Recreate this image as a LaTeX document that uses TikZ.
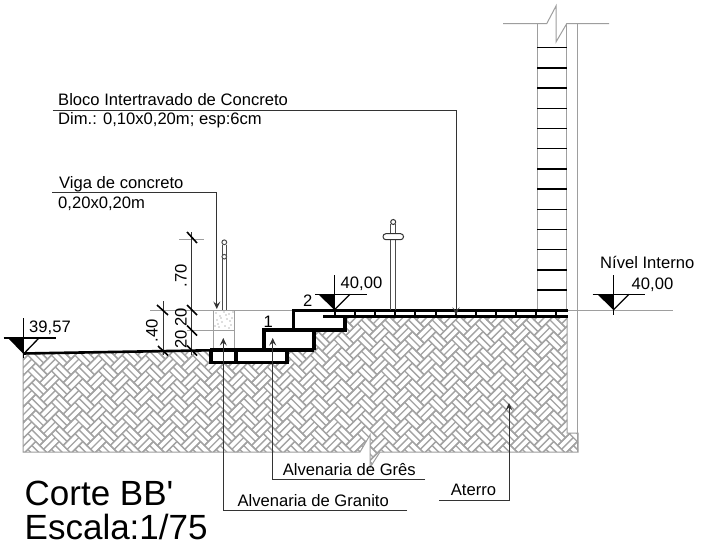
\documentclass[tikz,border=0pt]{standalone}
\usepackage{fontspec}
\setmainfont{Liberation Sans}
\newfontfamily\plainsans{Liberation Sans}
\usetikzlibrary{arrows.meta}
\definecolor{lg}{gray}{0.62}
\definecolor{hg}{gray}{0.64}
\tikzset{
  lbl/.style={inner sep=0pt,anchor=base west,font=\fontsize{16.6}{16.6}\selectfont,text=black},
  vlbl/.style={inner sep=0pt,anchor=base,rotate=90,font=\fontsize{16.6}{16.6}\selectfont,text=black},
  big/.style={inner sep=0pt,anchor=base west,font=\plainsans\fontsize{35}{35}\selectfont,text=black},
  grayline/.style={draw=lg,line width=1pt},
  leader/.style={draw=black!80,line width=1pt},
  arrowed/.style={leader,-{Stealth[length=7.5pt,width=7pt,inset=3pt]}},
  heavy/.style={draw=black,line width=3.2pt},
  wall/.style={draw=black,line width=1.5pt},
  dimline/.style={draw=black!80,line width=0.8pt},
  slash/.style={draw=black,line width=1.6pt},
  hatchline/.style={draw=hg,line width=1.35pt},
}
\begin{document}
\begin{tikzpicture}[x=1pt,y=-1pt]
\useasboundingbox (0,0) rectangle (719,548);
\fill[white] (0,0) rectangle (719,548);

% ---- fill (hatched ground) ----
\begin{scope}
\clip (23,353) -- (210,350) -- (210,362) -- (287,362) -- (287,350) -- (314,350) -- (314,330) -- (345,330) -- (345,316) -- (567,316) -- (567,433) -- (578,433) -- (578,452) -- (380,452) -- (370,467.5) -- (370,435) -- (360,452) -- (23,452) -- cycle;
\begin{scope}[x=5.55pt,y=5.55pt,rotate=45,shift={(0.3,0.2)}]
\foreach \p in {-54,...,0}{
  \foreach \q in {-5,...,33}{
    \edef\xa{\the\numexpr2*\p+3*\q\relax}
    \edef\ya{\the\numexpr2*\p-3*\q\relax}
    \ifnum\xa>-66 \ifnum\xa<42 \ifnum\ya>-150 \ifnum\ya<-38
    \edef\xb{\the\numexpr\xa+3\relax}
    \edef\xc{\the\numexpr\xa+4\relax}
    \edef\xd{\the\numexpr\xa+5\relax}
    \edef\yb{\the\numexpr\ya+1\relax}
    \edef\yc{\the\numexpr\ya+2\relax}
    \edef\yd{\the\numexpr\ya-1\relax}
    \draw[hatchline] (\xa,\ya) rectangle (\xb,\yc) (\xa,\yb) -- (\xb,\yb)
       (\xb,\yd) rectangle (\xd,\yc) (\xc,\yd) -- (\xc,\yc);
    \fi\fi\fi\fi
  }
}
\end{scope}
\end{scope}
\draw[draw=lg,line width=1pt] (23,353) -- (23,452) -- (360,452) -- (370,435) -- (370,467.5) -- (380,452) -- (578,452) -- (578,433) -- (567,433) -- (567,316);

% ---- wall ----
\coordinate (wl) at (537,23.7);
\coordinate (wr) at (566.7,23.7);
\coordinate (wo) at (577.5,23.7);
\draw[grayline] (503,23.7) -- (546.7,23.7) -- (556,6) -- (556,42) -- (566.7,23.7) -- (609,23.7);
\draw[grayline] (wl) -- (537,310);
\draw[grayline] (wr) -- (566.7,310);
\draw[grayline] (wo) -- (577.5,452);
\foreach \k in {0,...,12}{
  \draw[wall] (537,47.7+20.2*\k) -- (566.7,47.7+20.2*\k);
}

% ---- level lines ----
\draw[grayline] (566.7,310) -- (673,310);
\draw[grayline] (187,310) -- (293,310);
\draw[grayline] (187,330.5) -- (214,330.5);
\draw[grayline] (150,310) -- (214,310);
\draw[grayline] (179,239.3) -- (204,239.3);

% ---- beam ----
\draw[grayline,fill=white] (213.5,310) rectangle (234,350);
\draw[grayline] (213.5,330.5) -- (234,330.5);
\foreach \p/\q in {216/313,220/316,224/312,229/314,232/318,217/320,222/322,227/319,231/325,215/326,219/327,225/326,229/328,221/318,226/315,218/324,230/321,233/312}{
  \fill[black!55] (\p,\q) circle (0.55);
}

% ---- steps ----
\draw[heavy,line join=miter] (264,350) -- (264,330) -- (345,330) -- (345,316);
\draw[heavy,line join=miter] (293.5,330) -- (293.5,310.3) -- (323,310.3);
\draw[heavy] (314,330) -- (314,350);
\draw[heavy,line join=miter] (210,350) -- (314,350);
\draw[heavy,line join=miter] (211,350) -- (211,362.5) -- (287,362.5) -- (287,350);
\draw[heavy] (236,350) -- (236,362.5);
\draw[line width=2.6pt,black] (23,353.5) -- (210,350.3);

% ---- floor ----
\draw[draw=black,line width=2.4pt] (323,310.5) -- (568,310.5);
\draw[draw=black,line width=3pt] (323,316) -- (568,316);
\foreach \k in {0,...,11}{
  \draw[draw=black,line width=2pt] (335+20.1*\k,310) -- (335+20.1*\k,316);
}

% ---- railings ----
\draw[draw=black!70,line width=1pt] (222,244.5) -- (222,310) (226.7,244.5) -- (226.7,310);
\draw[draw=black!70,line width=1pt,fill=white] (224.3,242.3) circle (2.4);
\draw[draw=black!70,line width=1pt,fill=white] (224.3,256.7) circle (2.3);
\draw[draw=black!70,line width=1pt] (390.7,224) -- (390.7,310) (395.7,224) -- (395.7,310);
\draw[draw=black!80,line width=1pt,fill=white] (393.2,222) circle (2.5);
\draw[draw=black!80,line width=1pt,fill=white,rounded corners=2.9pt] (383,233.7) rectangle (403.5,239.7);

% ---- dimension lines ----
\draw[dimline] (191.5,232) -- (191.5,355);
\draw[dimline] (163.5,301) -- (163.5,355);
\draw[slash] (187,232) -- (197,243);
\draw[slash] (187,305) -- (197,315);
\draw[slash] (187,325.5) -- (197,335.5);
\draw[slash] (187,345.5) -- (197,355.5);
\draw[slash] (157,305) -- (168,315);
\draw[slash] (158,346) -- (168,355.5);
\node[vlbl] (d70) at (186.7,276) {.70};
\node[vlbl] (d40) at (157.7,331) {.40};
\node[vlbl] (d20a) at (186.7,317) {20};
\node[vlbl] (d20b) at (186.7,339.5) {20};

% ---- level markers ----
\draw[draw=black,line width=1.5pt] (23.5,318) -- (23.5,358);
\draw[draw=black,line width=1.2pt] (3.5,338) -- (56,338);
\fill[black] (8,338) -- (23.5,354) -- (23.5,338) -- cycle;
\draw[draw=black,line width=1.3pt] (23.5,354) -- (39,338);
\node[lbl] (t3957) at (29,332.3) {39,57};

\draw[draw=black,line width=1.5pt] (334.3,275) -- (334.3,313);
\draw[draw=black,line width=1.2pt] (315,294.3) -- (366.7,294.3);
\fill[black] (318.5,294.3) -- (334.3,310) -- (334.3,294.3) -- cycle;
\draw[draw=black,line width=1.3pt] (334.3,310) -- (350,294.3);
\node[lbl] (t4000a) at (340.5,288.3) {40,00};

\draw[draw=black,line width=1.5pt] (613.3,275) -- (613.3,315);
\draw[draw=black,line width=1.2pt] (592.7,294.3) -- (645,294.3);
\fill[black] (597.5,294.3) -- (613.3,310) -- (613.3,294.3) -- cycle;
\draw[draw=black,line width=1.3pt] (613.3,310) -- (629,294.3);
\node[lbl] (t4000b) at (631.5,289.3) {40,00};
\node[lbl] (tni) at (600,268.3) {Nível Interno};

\node[lbl] (s2) at (303,306) {2};
\node[lbl] (s1) at (263.5,327) {1};

% ---- leaders ----
\node[lbl] (tbloco) at (58,105.7) {Bloco Intertravado de Concreto};
\node[lbl] (tdim) at (58,124.7) {Dim.: 0,10x0,20m; esp:6cm};
\coordinate (bA) at (52.7,111);
\coordinate (bB) at (456,111);
\coordinate (bC) at (456,315);
\draw[arrowed] (bA) -- (bB) -- (bC);

\node[lbl] (tviga) at (59,188.3) {Viga de concreto};
\node[lbl] (tviga2) at (58,208) {0,20x0,20m};
\coordinate (vA) at (52,192);
\coordinate (vB) at (216.8,192);
\coordinate (vC) at (216.8,309);
\draw[arrowed] (vA) -- (vB) -- (vC);

\node[lbl] (tgran) at (237.3,506.7) {Alvenaria de Granito};
\coordinate (gA) at (407,510);
\coordinate (gB) at (223.3,510);
\coordinate (gC) at (223.3,338);
\draw[arrowed] (gA) -- (gB) -- (gC);

\node[lbl] (tgres) at (282.7,475) {Alvenaria de Grês};
\coordinate (rA) at (425,479.7);
\coordinate (rB) at (272.7,479.7);
\coordinate (rC) at (272.7,338);
\draw[arrowed] (rA) -- (rB) -- (rC);

\node[lbl] (tater) at (450.7,495.7) {Aterro};
\coordinate (aA) at (439,500);
\coordinate (aB) at (509,500);
\coordinate (aC) at (509,403);
\draw[arrowed] (aA) -- (aB) -- (aC);

\node[big] (tcorte) at (24.5,505.7) {Corte BB'};
\node[big] (tesc) at (24.5,539) {Escala:1/75};
\end{tikzpicture}
\end{document}
